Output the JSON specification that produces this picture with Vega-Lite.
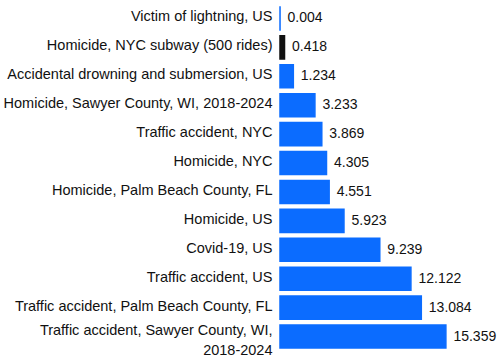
{
  "$schema": "https://vega.github.io/schema/vega-lite/v6.json",
  "autosize": {"type": "none"},
  "padding": {"left": 280, "top": 4, "right": 4, "bottom": 10},
  "width": 216,
  "height": 347,
  "background": "white",
  "config": {"view": {"stroke": null}, "font": "Liberation Sans"},
  "data": {"values": [
    {"cause": "Victim of lightning, US", "rate": 0.004, "color": "#0b6cff"},
    {"cause": "Homicide, NYC subway (500 rides)", "rate": 0.418, "color": "#111111"},
    {"cause": "Accidental drowning and submersion, US", "rate": 1.234, "color": "#0b6cff"},
    {"cause": "Homicide, Sawyer County, WI, 2018-2024", "rate": 3.233, "color": "#0b6cff"},
    {"cause": "Traffic accident, NYC", "rate": 3.869, "color": "#0b6cff"},
    {"cause": "Homicide, NYC", "rate": 4.305, "color": "#0b6cff"},
    {"cause": "Homicide, Palm Beach County, FL", "rate": 4.551, "color": "#0b6cff"},
    {"cause": "Homicide, US", "rate": 5.923, "color": "#0b6cff"},
    {"cause": "Covid-19, US", "rate": 9.239, "color": "#0b6cff"},
    {"cause": "Traffic accident, US", "rate": 12.122, "color": "#0b6cff"},
    {"cause": "Traffic accident, Palm Beach County, FL", "rate": 13.084, "color": "#0b6cff"},
    {"cause": "Traffic accident, Sawyer County, WI,\n2018-2024", "rate": 15.359, "color": "#0b6cff"}
  ]},
  "encoding": {
    "y": {
      "field": "cause", "type": "nominal", "sort": null,
      "scale": {"paddingInner": 0.2, "paddingOuter": 0.1},
      "axis": {
        "title": null, "domain": false, "ticks": false,
        "labelPadding": 8, "labelFontSize": 14.5, "labelColor": "#111111",
        "labelLimit": 300, "labelLineHeight": 20,
        "labelOffset": {"condition": {"test": "indexof(datum.value, '\\n') >= 0", "value": -6}, "value": -1},
        "labelExpr": "split(datum.value, '\\n')"
      }
    },
    "x": {
      "field": "rate", "type": "quantitative",
      "scale": {"domain": [0, 20], "nice": false},
      "axis": null
    }
  },
  "layer": [
    {
      "mark": {"type": "bar", "strokeWidth": 1.5},
      "encoding": {
        "fill": {"field": "color", "type": "nominal", "scale": null},
        "stroke": {"field": "color", "type": "nominal", "scale": null}
      }
    },
    {
      "mark": {"type": "text", "align": "left", "baseline": "middle", "dx": 7.5, "dy": 0, "fontSize": 14, "color": "#111111"},
      "encoding": {
        "text": {"field": "rate", "type": "quantitative", "format": ".3f"}
      }
    }
  ]
}
